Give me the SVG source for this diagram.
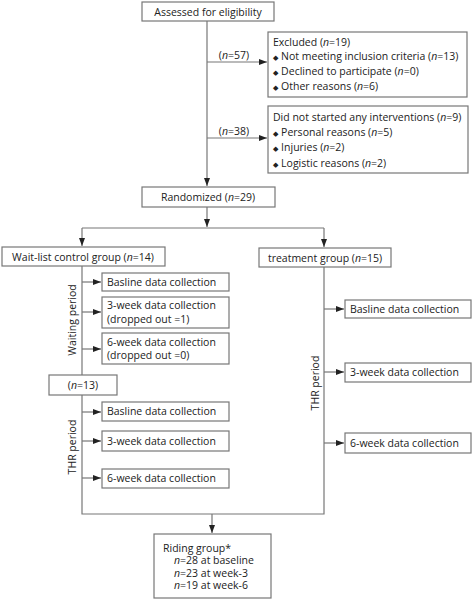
<svg xmlns="http://www.w3.org/2000/svg" width="472" height="600" viewBox="0 0 472 600">
<defs>
<marker id="ah" markerUnits="userSpaceOnUse" markerWidth="9" markerHeight="7" refX="8" refY="3" orient="auto">
<path d="M0,0 L8,3 L0,6 z" fill="#222"/>
</marker>
<style>
.b{fill:#fff;stroke:#777;stroke-width:1.2}
.l{fill:none;stroke:#777;stroke-width:1.2}
.a{fill:none;stroke:#777;stroke-width:1.2;marker-end:url(#ah)}
text{font-family:"Open Sans","Noto Sans","DejaVu Sans",sans-serif;font-size:10.5px;fill:#222}
.c{text-anchor:middle}
.bu{font-size:7px;font-family:"DejaVu Sans",sans-serif}
</style>
</defs>
<rect width="472" height="600" fill="#fff"/>
<g id="connectors">
<path class="l" d="M207,21 V62"/>
<path class="a" d="M207,62 H267"/>
<path class="l" d="M207,62 V138"/>
<path class="a" d="M207,138 H267"/>
<path class="a" d="M207,138 V186"/>
<path class="a" d="M207,207 V227"/>
<path class="l" d="M82,228 H324"/>
<path class="a" d="M82,228 V246"/>
<path class="a" d="M324,228 V247"/>
<path class="l" d="M82,266 V375"/>
<path class="a" d="M82,282 H101"/>
<path class="a" d="M82,312 H101"/>
<path class="a" d="M82,349 H101"/>
<path class="l" d="M82,395 V514 H324 V267"/>
<path class="a" d="M82,412 H101"/>
<path class="a" d="M82,441 H101"/>
<path class="a" d="M82,478 H101"/>
<path class="a" d="M324,309 H344"/>
<path class="a" d="M324,372 H344"/>
<path class="a" d="M324,443 H344"/>
<path class="a" d="M212,514 V533"/>
<text x="234" y="59" class="c">(<tspan font-style="italic">n</tspan>=57)</text>
<text x="234" y="135" class="c">(<tspan font-style="italic">n</tspan>=38)</text>
<text x="76" y="320" class="c" transform="rotate(-90 76 320)">Waiting period</text>
<text x="76" y="447" class="c" transform="rotate(-90 76 447)">THR period</text>
<text x="319" y="383" class="c" transform="rotate(-90 319 383)">THR period</text>
</g>
<g id="assessed">
<rect class="b" x="142" y="2" width="132" height="19"/>
<text x="208" y="15.5" class="c">Assessed for eligibility</text>
</g>
<g id="excluded">
<rect class="b" x="268" y="32" width="199" height="65"/>
<text x="273" y="45.5">Excluded (<tspan font-style="italic">n</tspan>=19)</text>
<text x="273" y="59.5"><tspan class="bu">◆</tspan> Not meeting inclusion criteria (<tspan font-style="italic">n</tspan>=13)</text>
<text x="273" y="74.5"><tspan class="bu">◆</tspan> Declined to participate (<tspan font-style="italic">n</tspan>=0)</text>
<text x="273" y="89.5"><tspan class="bu">◆</tspan> Other reasons (<tspan font-style="italic">n</tspan>=6)</text>
</g>
<g id="notstarted">
<rect class="b" x="268" y="106" width="200" height="67"/>
<text x="273" y="120.5">Did not started any interventions (<tspan font-style="italic">n</tspan>=9)</text>
<text x="273" y="136"><tspan class="bu">◆</tspan> Personal reasons (<tspan font-style="italic">n</tspan>=5)</text>
<text x="273" y="151"><tspan class="bu">◆</tspan> Injuries (<tspan font-style="italic">n</tspan>=2)</text>
<text x="273" y="166.5"><tspan class="bu">◆</tspan> Logistic reasons (<tspan font-style="italic">n</tspan>=2)</text>
</g>
<g id="randomized">
<rect class="b" x="142" y="187" width="133" height="20"/>
<text x="208" y="201" class="c">Randomized (<tspan font-style="italic">n</tspan>=29)</text>
</g>
<g id="waitlist">
<rect class="b" x="2" y="247" width="163" height="19"/>
<text x="83" y="260.5" class="c">Wait-list control group (<tspan font-style="italic">n</tspan>=14)</text>
</g>
<g id="treatment">
<rect class="b" x="259" y="248" width="132" height="19"/>
<text x="325" y="261.5" class="c">treatment group (<tspan font-style="italic">n</tspan>=15)</text>
</g>
<g id="w-base">
<rect class="b" x="102" y="273" width="127" height="18"/>
<text x="107" y="285.5">Basline data collection</text>
</g>
<g id="w-3wk">
<rect class="b" x="102" y="297" width="127" height="31"/>
<text x="107" y="309">3-week data collection</text>
<text x="107" y="322.5">(dropped out =1)</text>
</g>
<g id="w-6wk">
<rect class="b" x="102" y="333" width="127" height="31"/>
<text x="107" y="345.5">6-week data collection</text>
<text x="107" y="359">(dropped out =0)</text>
</g>
<g id="n13">
<rect class="b" x="49" y="375" width="68" height="20"/>
<text x="83" y="389" class="c">(<tspan font-style="italic">n</tspan>=13)</text>
</g>
<g id="t1-base">
<rect class="b" x="102" y="402" width="127" height="19"/>
<text x="107" y="415">Basline data collection</text>
</g>
<g id="t1-3wk">
<rect class="b" x="102" y="431" width="127" height="20"/>
<text x="107" y="444.5">3-week data collection</text>
</g>
<g id="t1-6wk">
<rect class="b" x="102" y="469" width="127" height="19"/>
<text x="107" y="482">6-week data collection</text>
</g>
<g id="t2-base">
<rect class="b" x="345" y="300" width="126" height="18"/>
<text x="350" y="312.5">Basline data collection</text>
</g>
<g id="t2-3wk">
<rect class="b" x="345" y="363" width="126" height="19"/>
<text x="350" y="376">3-week data collection</text>
</g>
<g id="t2-6wk">
<rect class="b" x="345" y="433" width="126" height="20"/>
<text x="350" y="446.5">6-week data collection</text>
</g>
<g id="riding">
<rect class="b" x="154" y="534" width="117" height="64"/>
<text x="163" y="551.5">Riding group*</text>
<text x="174" y="564"><tspan font-style="italic">n</tspan>=28 at baseline</text>
<text x="174" y="576.5"><tspan font-style="italic">n</tspan>=23 at week-3</text>
<text x="174" y="589"><tspan font-style="italic">n</tspan>=19 at week-6</text>
</g>
</svg>
